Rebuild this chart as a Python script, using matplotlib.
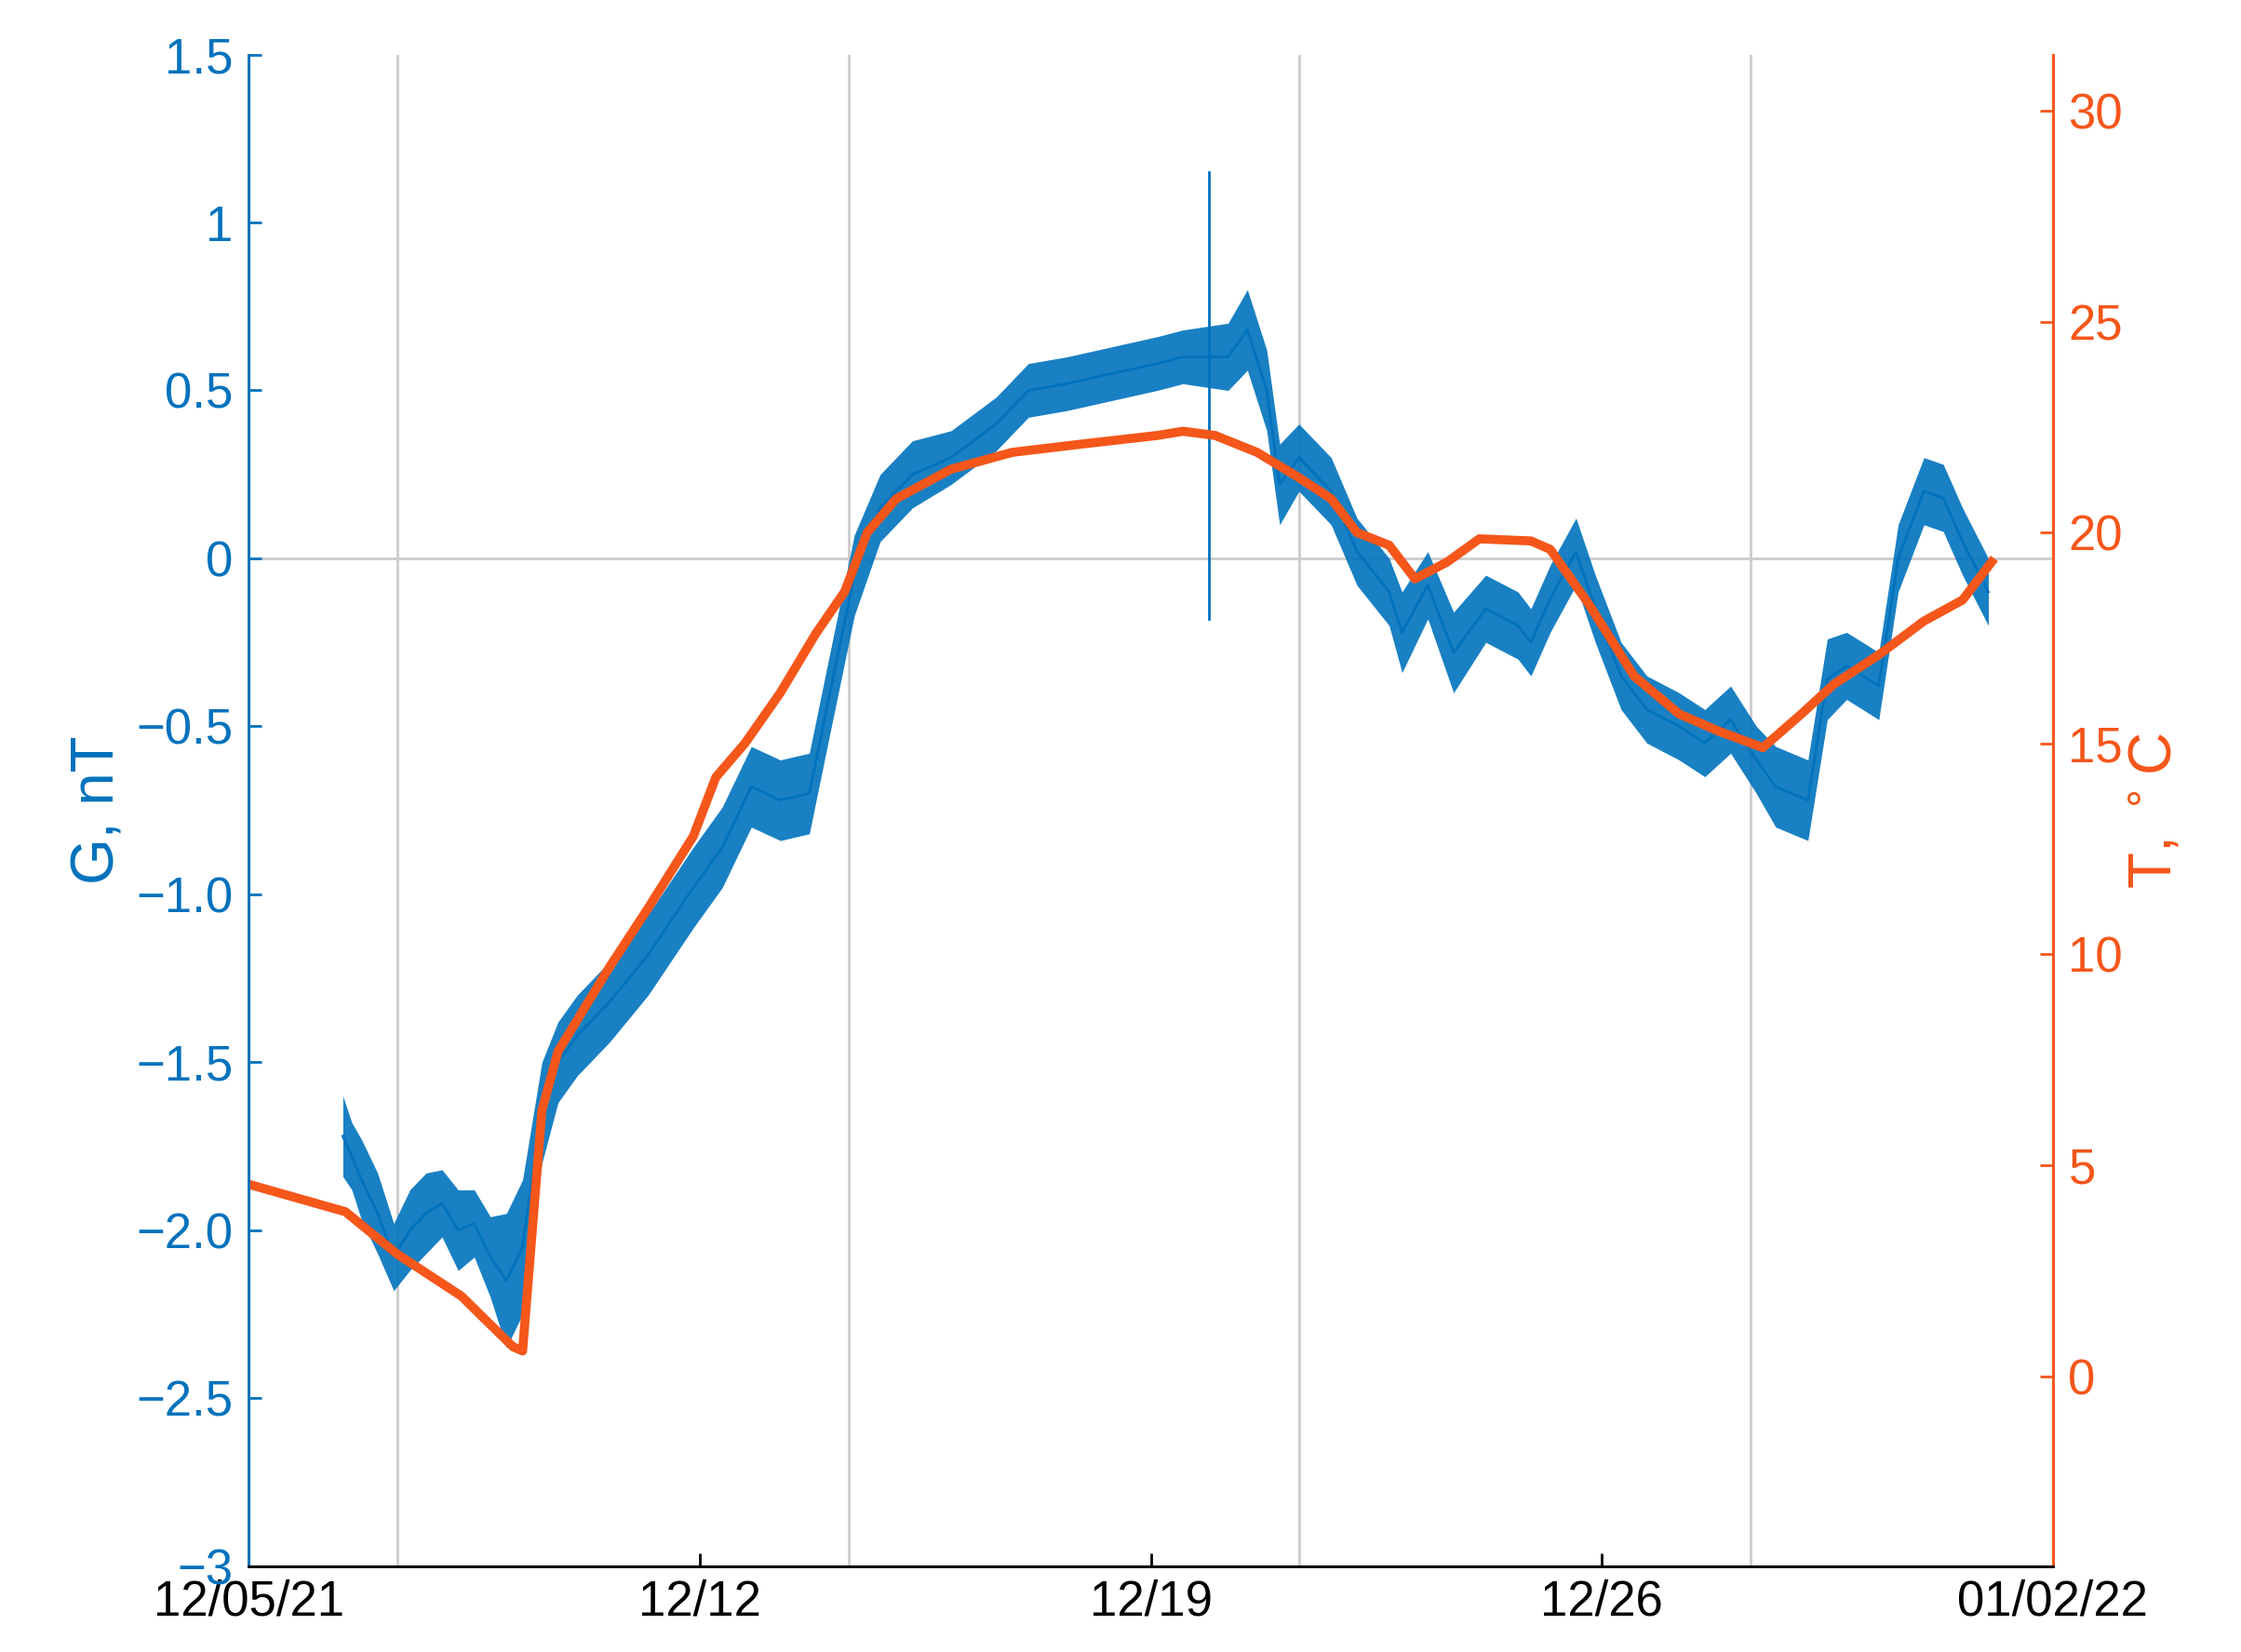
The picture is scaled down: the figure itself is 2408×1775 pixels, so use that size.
import matplotlib.pyplot as plt

# days since 12/05/21 00:00
g_days = [1.46, 1.6, 1.75, 2.0, 2.25, 2.5, 2.75, 3.0, 3.25, 3.5, 3.75, 4.0, 4.25, 4.55, 4.8, 5.1,
          5.6, 6.2, 6.9, 7.35, 7.8, 8.25, 8.7, 9.0, 9.4, 9.8, 10.3, 10.9, 11.6, 12.1, 12.7, 13.4,
          14.1, 14.5, 15.2, 15.5, 15.8, 16.0, 16.3, 16.8, 17.2, 17.7, 17.9, 18.3, 18.7, 19.2,
          19.7, 19.9, 20.2, 20.6, 20.9, 21.3, 21.7, 22.2, 22.6, 23.0, 23.4, 23.7, 24.2, 24.5,
          24.8, 25.3, 25.6, 26.0, 26.3, 26.6, 27.0]
g_mid = [-1.72, -1.78, -1.85, -1.95, -2.08, -2.0, -1.95, -1.92, -2.0, -1.98, -2.08, -2.15, -2.05,
         -1.65, -1.5, -1.42, -1.32, -1.18, -0.98, -0.86, -0.68, -0.72, -0.7, -0.42, -0.05, 0.15,
         0.25, 0.3, 0.4, 0.5, 0.52, 0.55, 0.58, 0.6, 0.6, 0.68, 0.5, 0.22, 0.3, 0.2, 0.02, -0.1,
         -0.22, -0.08, -0.28, -0.15, -0.2, -0.25, -0.12, 0.02, -0.15, -0.35, -0.45, -0.5, -0.55,
         -0.48, -0.6, -0.68, -0.72, -0.36, -0.32, -0.38, 0.0, 0.2, 0.18, 0.05, -0.1]
g_spread = [0.12, 0.1, 0.12, 0.12, 0.1, 0.12, 0.12, 0.1, 0.12, 0.1, 0.12, 0.2, 0.2, 0.15, 0.12,
            0.12, 0.12, 0.12, 0.12, 0.12, 0.12, 0.12, 0.12, 0.12, 0.12, 0.1, 0.1, 0.08, 0.08,
            0.08, 0.08, 0.08, 0.08, 0.08, 0.1, 0.12, 0.12, 0.12, 0.1, 0.1, 0.1, 0.1, 0.12, 0.1,
            0.12, 0.1, 0.1, 0.1, 0.1, 0.1, 0.1, 0.1, 0.1, 0.1, 0.1, 0.1, 0.1, 0.12, 0.12, 0.12,
            0.1, 0.1, 0.1, 0.1, 0.1, 0.1, 0.1]
spike_day = 14.9
spike_range = [-0.18, 1.15]

t_days = [0.0, 1.5, 2.3, 3.3, 4.1, 4.25, 4.55, 4.8, 5.6, 6.2, 6.9, 7.25, 7.7, 8.25, 8.8, 9.25,
          9.6, 10.05, 10.9, 11.85, 12.95, 14.1, 14.5, 15.0, 15.65, 16.3, 16.8, 17.2, 17.7, 18.1,
          18.6, 19.1, 19.9, 20.2, 20.8, 21.5, 22.2, 22.8, 23.5, 24.1, 24.6, 25.3, 26.0, 26.6,
          27.05]
t_vals = [4.55, 3.9, 2.9, 1.9, 0.7, 0.6, 6.3, 7.7, 9.7, 11.1, 12.8, 14.2, 15.0, 16.2, 17.6, 18.6,
          20.0, 20.8, 21.5, 21.9, 22.1, 22.3, 22.4, 22.3, 21.9, 21.3, 20.8, 20.0, 19.7, 18.9,
          19.3, 19.85, 19.8, 19.6, 18.3, 16.6, 15.7, 15.3, 14.9, 15.7, 16.4, 17.1, 17.9, 18.4,
          19.3]

x_ticks = [0, 7, 14, 21, 28]
x_labels = ['12/05/21', '12/12', '12/19', '12/26', '01/02/22']
grid_days = [2.31, 9.31, 16.31, 23.31]
g_ticks = [1.5, 1, 0.5, 0, -0.5, -1, -1.5, -2, -2.5, -3]
g_labels = ['1.5', '1', '0.5', '0', '\u22120.5', '\u22121.0', '\u22121.5', '\u22122.0', '\u22122.5', '\u22123']

blue = '#0072BD'
orange = '#F5561A'
plt.rcParams['font.family'] = ['Liberation Sans', 'DejaVu Sans']

fig = plt.figure(figsize=(24.08, 17.75), dpi=100)
ax = fig.add_axes([0.111, 0.052, 0.805, 0.915])
ax2 = ax.twinx()

for d in grid_days:
    ax.axvline(d, color='#cccccc', lw=2, zorder=0)
ax.axhline(0, color='#cccccc', lw=2, zorder=0)

lo = [m - s for m, s in zip(g_mid, g_spread)]
hi = [m + s for m, s in zip(g_mid, g_spread)]
ax.fill_between(g_days, lo, hi, color=blue, lw=0, alpha=0.9)
ax.plot(g_days, g_mid, color=blue, lw=2)
ax.plot([spike_day, spike_day], spike_range, color=blue, lw=2)

ax2.plot(t_days, t_vals, color=orange, lw=7)

ax.set_xlim(0, 28)
ax.set_ylim(-3, 1.5)
ax2.set_ylim(-4.5, 31.33)
ax.set_xticks(x_ticks)
ax.set_xticklabels(x_labels)
ax.set_yticks(g_ticks)
ax.set_yticklabels(g_labels)
ax2.set_yticks([0, 5, 10, 15, 20, 25, 30])

ax.tick_params(axis='x', labelsize=38, direction='in', length=10, width=2, pad=10)
ax.tick_params(axis='y', labelsize=38, direction='in', length=10, width=2, colors=blue, pad=12)
ax2.tick_params(axis='y', labelsize=38, direction='in', length=10, width=2, colors=orange, pad=12)
ax.set_ylabel('G, nT', fontsize=46, color=blue, labelpad=8)
ax2.set_ylabel('T, $^\\circ$C', fontsize=46, color=orange)

for a in (ax, ax2):
    a.spines['top'].set_visible(False)
    a.spines['left'].set_color(blue)
    a.spines['right'].set_color(orange)
    a.spines['bottom'].set_color('black')
    for s in a.spines.values():
        s.set_linewidth(2)

fig.savefig('out.png')
plt.close()
